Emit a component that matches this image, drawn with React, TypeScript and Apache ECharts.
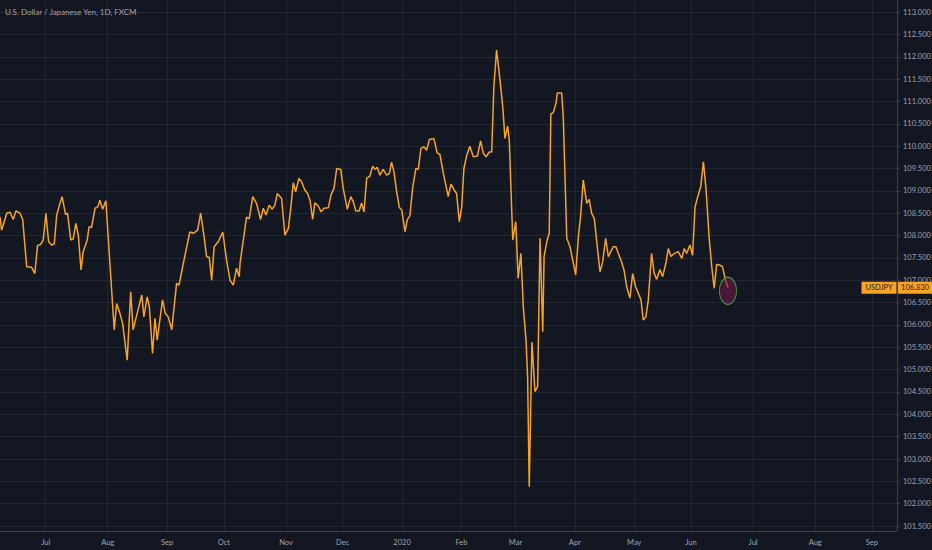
import React, { useEffect, useRef } from "react";
import * as echarts from "echarts";

const chartTitle = "U.S. Dollar / Japanese Yen, 1D, FXCM";
const symbolName = "USDJPY";

// x = trading-bar index (0 = first bar of Jul 2019), y = close price
const barIndex = [
  -16.9, -16.3, -14.4, -13.2, -12.0, -11.0, -9.5, -8.5, -7.0, -5.2,
  -4.0, -3.0, -1.9, -0.9, 0.1, 1.1, 2.2, 3.2, 4.1, 5.3,
  6.1, 7.4, 8.1, 9.3, 10.2, 11.2, 12.1, 13.1, 13.9, 15.4,
  16.1, 17.0, 18.3, 19.3, 20.1, 21.1, 22.3, 25.4, 26.3, 27.5,
  28.5, 30.2, 31.5, 32.4, 33.9, 35.6, 36.4, 37.6, 38.4, 39.6,
  40.5, 41.3, 43.3, 44.3, 45.4, 46.7, 48.5, 49.4, 51.0, 53.4,
  54.7, 56.3, 57.4, 58.6, 59.6, 60.6, 61.5, 62.4, 63.9, 65.6,
  67.0, 68.3, 69.5, 70.7, 71.7, 72.0, 74.4, 75.4, 76.7, 78.1,
  79.6, 80.6, 81.6, 82.8, 83.9, 84.9, 85.8, 87.4, 88.6, 89.9,
  90.7, 91.7, 92.6, 93.8, 94.8, 96.0, 97.0, 97.9, 98.9, 99.7,
  101.0, 102.0, 103.1, 104.7, 105.7, 106.8, 107.8, 109.3, 110.2, 111.7,
  113.0, 113.9, 114.9, 116.1, 117.0, 117.9, 118.9, 120.1, 121.1, 122.0,
  122.8, 123.8, 125.0, 126.3, 127.3, 128.1, 129.0, 130.0, 131.0, 131.9,
  133.1, 133.9, 134.9, 135.9, 137.1, 138.0, 139.0, 140.1, 141.1, 142.1,
  143.8, 145.0, 146.0, 147.3, 149.1, 150.1, 151.3, 152.2, 153.2, 154.1,
  154.9, 155.9, 157.1, 158.4, 159.9, 161.1, 162.1, 163.1, 164.3, 165.2,
  166.0, 167.0, 168.0, 169.3, 170.1, 171.1, 171.7, 173.0, 174.1, 175.0,
  176.0, 176.9, 177.9, 178.5, 179.1, 180.1, 181.2, 182.2, 183.1, 184.1,
  184.6, 185.6, 186.5, 187.1, 188.0, 189.0, 189.5, 191.1, 191.7, 193.0,
  194.2, 195.2, 196.3, 197.3, 198.1, 199.1, 200.4, 201.3, 202.2, 203.2,
  204.3, 205.3, 206.3, 207.4, 208.4, 209.3, 210.2, 211.2, 212.1, 213.3,
  214.2, 215.2, 216.4, 217.4, 218.5, 219.3, 220.5, 221.3, 222.3, 223.2,
  224.4, 225.4, 226.3, 227.5, 228.5, 229.7, 230.6, 231.6, 232.8, 234.3,
  235.6, 236.5, 237.4, 238.6, 239.6, 240.5, 241.5, 242.6, 243.6, 244.6,
  245.7, 246.7, 247.6, 248.5, 249.7, 250.7, 251.6, 252.7,
];

const price = [
  108.42, 108.12, 108.5, 108.52, 108.36, 108.55, 108.5, 108.36, 107.3, 107.29,
  107.15, 107.78, 107.8, 107.9, 108.5, 107.86, 107.79, 107.81, 108.46, 108.72,
  108.87, 108.47, 108.5, 107.9, 107.92, 108.27, 108.01, 107.23, 107.64, 107.9,
  108.2, 108.18, 108.61, 108.64, 108.79, 108.59, 108.78, 105.89, 106.48, 106.26,
  106.04, 105.21, 106.74, 105.89, 106.26, 106.67, 106.18, 106.63, 106.41, 105.36,
  106.15, 105.66, 106.56, 106.26, 106.18, 105.89, 106.93, 106.89, 107.38, 108.08,
  108.05, 108.12, 108.5, 108.01, 107.53, 107.51, 107.0, 107.75, 107.86, 108.08,
  107.45, 107.0, 106.89, 107.27, 107.08, 107.38, 108.41, 108.38, 108.87, 108.72,
  108.36, 108.61, 108.46, 108.68, 108.59, 108.68, 108.94, 108.83, 108.01, 108.16,
  108.57, 109.18, 108.98, 109.28, 109.2, 109.02, 108.94, 108.79, 108.36, 108.73,
  108.66, 108.53, 108.61, 108.62, 108.91, 109.06, 109.5, 109.48, 109.06, 108.59,
  108.87, 108.76, 108.55, 108.55, 108.73, 108.53, 109.28, 109.33, 109.55, 109.48,
  109.53, 109.35, 109.48, 109.35, 109.39, 109.64, 109.43, 108.98, 108.63, 108.57,
  108.08, 108.35, 108.44, 109.06, 109.5, 109.48, 109.95, 109.99, 109.91, 110.15,
  110.17, 109.85, 109.82, 109.39, 108.87, 109.15, 109.02, 108.94, 108.31, 108.64,
  109.5, 109.78, 110.0, 109.76, 109.78, 110.12, 109.84, 109.76, 109.87, 109.87,
  111.33, 112.15, 111.63, 110.88, 110.17, 110.45, 110.14, 107.9, 108.31, 107.04,
  107.6, 106.41, 105.66, 104.84, 102.38, 105.62, 104.51, 104.62, 107.94, 105.85,
  107.53, 107.86, 108.05, 110.72, 110.75, 110.96, 111.19, 111.19, 110.66, 107.94,
  107.75, 107.45, 107.12, 107.97, 108.42, 109.24, 108.72, 108.81, 108.5, 108.38,
  107.75, 107.19, 107.41, 107.94, 107.53, 107.64, 107.75, 107.75, 107.6, 107.41,
  107.23, 106.85, 106.6, 107.15, 106.85, 106.74, 106.56, 106.11, 106.18, 106.56,
  107.6, 107.15, 107.02, 107.24, 107.08, 107.38, 107.71, 107.53, 107.6, 107.64,
  107.49, 107.71, 107.6, 107.79, 107.56, 108.64, 108.87, 109.09, 109.65, 109.02,
  107.97, 107.3, 106.82, 107.35, 107.34, 107.3, 107.04, 106.83,
];

const monthTickIndex = [0, 23, 45, 66, 89, 110, 132, 154, 174, 196, 218, 239, 262, 285, 306];
const monthTickLabel = ["Jul", "Aug", "Sep", "Oct", "Nov", "Dec", "2020", "Feb", "Mar", "Apr", "May", "Jun", "Jul", "Aug", "Sep"];

const priceTicks = [
  101.5, 102, 102.5, 103, 103.5, 104, 104.5, 105, 105.5, 106, 106.5, 107,
  107.5, 108, 108.5, 109, 109.5, 110, 110.5, 111, 111.5, 112, 112.5, 113,
];

const lastPrice = 106.83;
const xRange = [-16.9, 315.3];
const yRange = [101.39, 113.27];

export default function App() {
  const ref = useRef<HTMLDivElement>(null);

  useEffect(() => {
    document.body.style.margin = "0";
    if (!ref.current) return;
    const chart = echarts.init(ref.current, null, { renderer: "svg" });
    const labelColor = "#a0a3ab";
    const gridColor = "#232733";
    const axisColor = "#3c404b";
    const orange = "#f7a325";
    const font = 'Lato, "Open Sans", sans-serif';
    const n = barIndex.length;

    chart.setOption({
      animation: false,
      backgroundColor: "#131722",
      textStyle: { fontFamily: font },
      title: {
        text: chartTitle,
        left: 5,
        top: 8,
        padding: 0,
        textStyle: { color: labelColor, fontSize: 8, fontWeight: "normal", fontFamily: font },
      },
      grid: { left: 0, right: 35, top: 0, bottom: 19, containLabel: false, outerBoundsMode: "none" },
      xAxis: {
        type: "value",
        min: xRange[0],
        max: xRange[1],
        axisLine: { show: true, onZero: false, lineStyle: { color: axisColor } },
        axisTick: { show: false, customValues: monthTickIndex },
        axisLabel: {
          customValues: monthTickIndex,
          formatter: (v: number) => {
            const i = monthTickIndex.indexOf(v);
            return i >= 0 ? monthTickLabel[i] : "";
          },
          color: labelColor,
          fontSize: 7.5,
          margin: 7,
          fontFamily: font,
        },
        splitLine: { show: true, lineStyle: { color: gridColor, width: 1 } },
      },
      yAxis: {
        type: "value",
        position: "right",
        min: yRange[0],
        max: yRange[1],
        axisLine: { show: true, onZero: false, lineStyle: { color: axisColor } },
        axisTick: { show: true, length: 3, customValues: priceTicks, lineStyle: { color: axisColor } },
        axisLabel: {
          customValues: priceTicks,
          formatter: (v: number) => v.toFixed(3),
          color: labelColor,
          fontSize: 7.5,
          margin: 6,
          fontFamily: font,
        },
        splitLine: { show: true, lineStyle: { color: gridColor, width: 1 } },
      },
      series: [
        {
          type: "line",
          data: barIndex.map((x, i) => [x, price[i]]),
          symbol: "none",
          showSymbol: false,
          clip: false,
          lineStyle: { color: orange, width: 1.5 },
          markPoint: {
            silent: true,
            animation: false,
            data: [
              {
                coord: [barIndex[n - 1], price[n - 1]],
                symbol: "circle",
                symbolSize: [17, 27],
                symbolOffset: [0, 3],
                itemStyle: { color: "rgba(110,25,70,0.6)", borderColor: "#43a047", borderWidth: 1 },
                label: { show: false },
              },
              {
                coord: [xRange[1], lastPrice],
                symbol: "rect",
                symbolSize: [35, 12],
                symbolOffset: [-18, 0],
                itemStyle: { color: orange },
                label: { show: true, position: "inside", formatter: symbolName, color: "#1b1b1b", fontSize: 7.5, fontFamily: font },
              },
              {
                coord: [xRange[1], lastPrice],
                symbol: "rect",
                symbolSize: [34, 12],
                symbolOffset: [18, 0],
                itemStyle: { color: orange },
                label: { show: true, position: "inside", formatter: lastPrice.toFixed(3), color: "#1b1b1b", fontSize: 7.5, fontFamily: font },
              },
            ],
          },
        },
      ],
    });

    return () => chart.dispose();
  }, []);

  return <div ref={ref} style={{ width: 932, height: 550 }} />;
}
